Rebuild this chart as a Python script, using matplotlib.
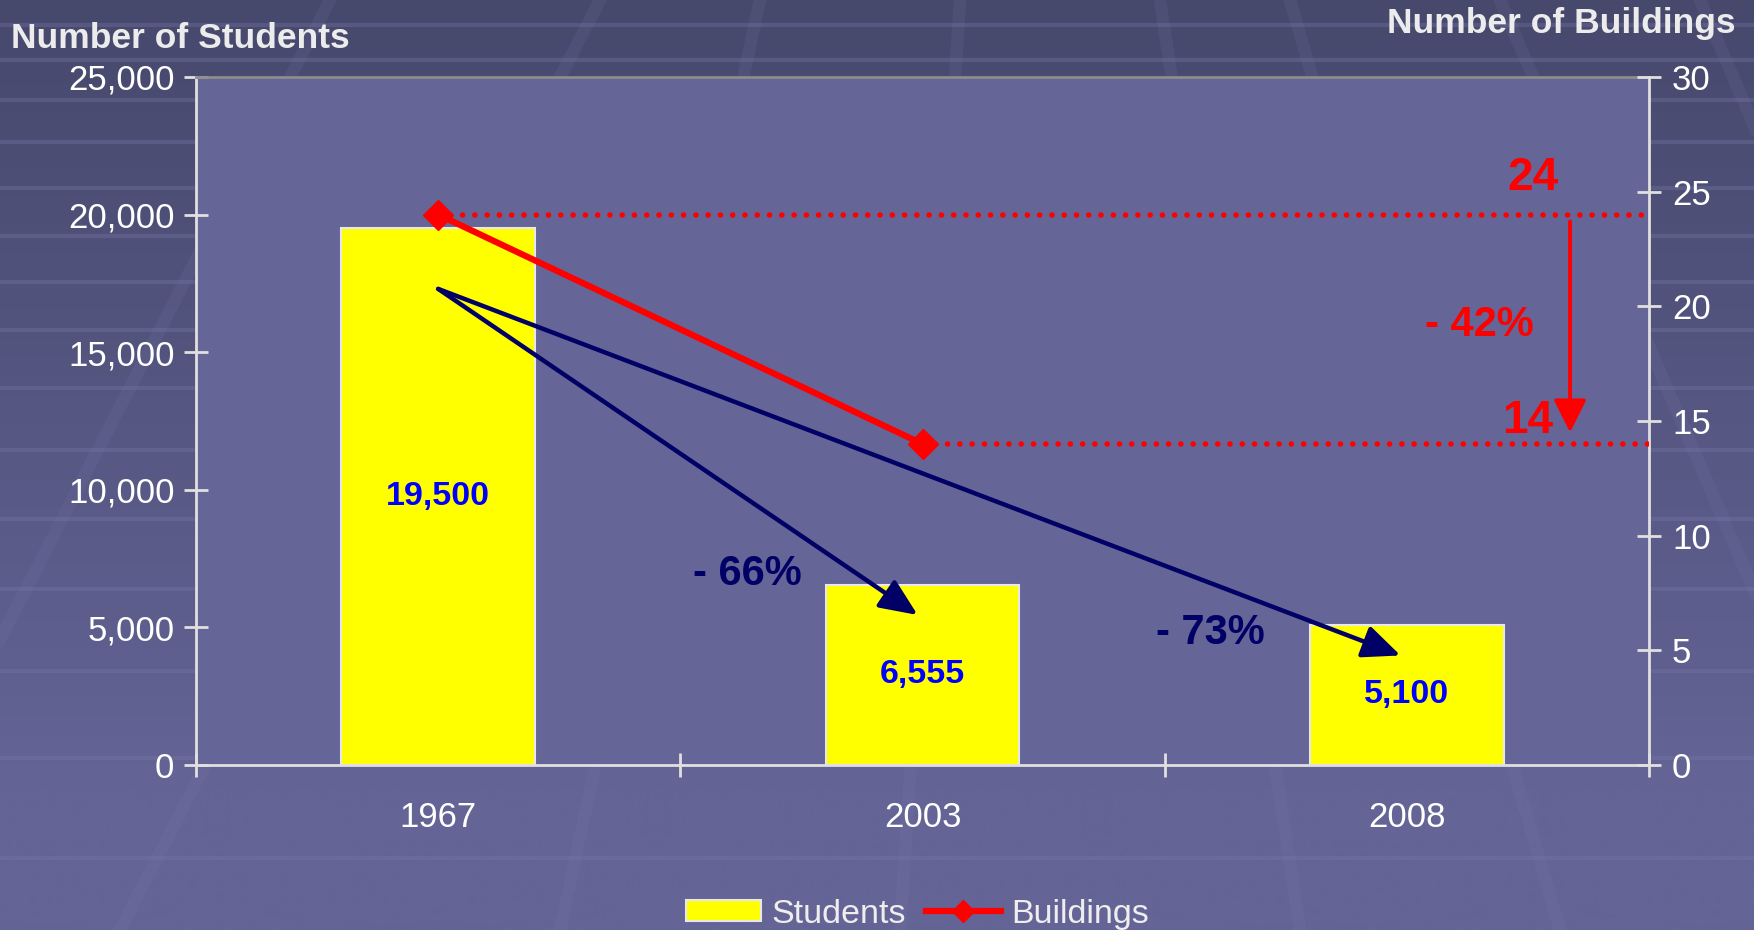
import numpy as np
import matplotlib.pyplot as plt
from matplotlib.lines import Line2D
from matplotlib.patches import Patch
from matplotlib.ticker import FuncFormatter

# data
years = ["1967", "2003", "2008"]
students = [19500, 6555, 5100]
student_labels = ["19,500", "6,555", "5,100"]
buildings = [24, 14]
student_drops = ["- 66%", "- 73%"]
building_drop = "- 42%"

plt.rcParams["font.family"] = ["Liberation Sans", "DejaVu Sans"]

W, H = 1754, 930
fig = plt.figure(figsize=(W / 100, H / 100), dpi=100)

# slide-like background: vertical gradient plus faint stripes
bg = fig.add_axes([0, 0, 1, 1], zorder=-10)
top = np.array([70, 72, 108]) / 255
bottom = np.array([100, 100, 150]) / 255
t = np.clip(np.linspace(0, 1, H) / 0.85, 0, 1)[:, None, None]
grad = top + (bottom - top) * t
grad = np.repeat(grad, 4, axis=1)
bg.imshow(grad, aspect="auto", extent=(0, W, H, 0))
for yb in [25, 60, 100, 142, 188, 236, 282, 330, 388, 450, 519, 589, 671, 758, 858]:
    bg.axhline(yb, color=(0.47, 0.47, 0.66), lw=3, alpha=0.35)
for x0, x1 in [(-150, 330), (120, 600), (560, 760), (900, 960), (1300, 1160),
               (1560, 1290), (1900, 1500), (2100, 1700)]:
    bg.plot([x0, x1], [H, 0], color=(0.48, 0.48, 0.68), lw=9, alpha=0.15)
bg.set_xlim(0, W)
bg.set_ylim(H, 0)
bg.axis("off")

# main axes (students)
ax = fig.add_axes([196 / W, 1 - 765 / H, (1649 - 196) / W, (765 - 77) / H])
ax.set_facecolor("#656597")
x = np.arange(len(years))
ax.bar(x, students, width=0.4, color="#ffff00", edgecolor="#e8e8e8", linewidth=1.5, zorder=2)
ax.set_xlim(-0.5, 2.5)
ax.set_ylim(0, 25000)
ax.set_yticks(range(0, 25001, 5000))
ax.yaxis.set_major_formatter(FuncFormatter(lambda v, p: f"{int(v):,}"))
ax.set_xticks([-0.5, 0.5, 1.5, 2.5])
ax.set_xticklabels([])
ax.set_xticks(x, minor=True)
ax.set_xticklabels(years, minor=True)
ax.tick_params(axis="y", direction="inout", length=17, width=2, color="#e0e0e0",
               labelsize=25, labelcolor="white", pad=7)
ax.tick_params(axis="x", which="major", direction="inout", length=17, width=2, color="#e0e0e0")
ax.tick_params(axis="x", which="minor", length=0, labelsize=25, labelcolor="white", pad=26)
for s in ["left", "bottom"]:
    ax.spines[s].set_color("#e0e0e0")
    ax.spines[s].set_linewidth(2)
ax.spines["top"].set_color("#8c8c8c")
ax.spines["top"].set_linewidth(2)
ax.spines["right"].set_visible(False)

for xi, h, lab in zip(x, students, student_labels):
    ax.text(xi, h / 2, lab, ha="center", va="center", fontsize=24.5,
            fontweight="bold", color="#0000ff", zorder=3)

# navy arrows showing student decline
navy = "#000066"
start = (0, 17300)
for tip, lab, pos in [((0.99, 5450), student_drops[0], (0.638, 6940)),
                      ((1.987, 3980), student_drops[1], (1.594, 4800))]:
    ax.annotate("", xy=tip, xytext=start, zorder=4,
                arrowprops=dict(arrowstyle="-|>,head_length=1.15,head_width=0.5",
                                color=navy, lw=3.2, shrinkA=0, shrinkB=0,
                                mutation_scale=20))
    ax.text(pos[0], pos[1], lab, ha="center", va="center", fontsize=30,
            fontweight="bold", color=navy, zorder=4)

# secondary axes (buildings)
ax2 = ax.twinx()
ax2.patch.set_visible(False)
ax2.set_ylim(0, 30)
ax2.set_yticks(range(0, 31, 5))
ax2.tick_params(axis="y", direction="inout", length=17, width=2, color="#e0e0e0",
                labelsize=25, labelcolor="white", pad=8)
ax2.spines["right"].set_color("#e0e0e0")
ax2.spines["right"].set_linewidth(2)
for s in ["left", "top", "bottom"]:
    ax2.spines[s].set_visible(False)

for xi, b in zip(x, buildings):
    ax2.plot([xi, 2.5], [b, b], color="red", lw=4, linestyle=(0, (0.01, 2.2)),
             dash_capstyle="round", zorder=3)
ax2.plot(x[:len(buildings)], buildings, color="red", lw=4.5, marker="D", ms=15, zorder=5)

ax2.annotate("", xy=(2.337, 14.5), xytext=(2.337, 23.7),
             arrowprops=dict(arrowstyle="-|>,head_length=1.0,head_width=0.5",
                             color="red", lw=2.8, shrinkA=0, shrinkB=0,
                             mutation_scale=20))
ax2.text(2.26, 25.6, str(buildings[0]), ha="center", va="center", fontsize=33,
         fontweight="bold", color="red")
ax2.text(2.25, 15.0, str(buildings[1]), ha="center", va="center", fontsize=33,
         fontweight="bold", color="red")
ax2.text(2.15, 19.2, building_drop, ha="center", va="center", fontsize=30,
         fontweight="bold", color="red")

# axis titles
fig.text(11 / W, 1 - 39 / H, "Number of Students", ha="left", va="center",
         fontsize=25.5, fontweight="bold", color="#ececec")
fig.text(1736 / W, 1 - 24 / H, "Number of Buildings", ha="right", va="center",
         fontsize=25.5, fontweight="bold", color="#ececec")

# legend
handles = [Patch(facecolor="#ffff00", edgecolor="#e8e8e8", linewidth=1.5),
           Line2D([], [], color="red", lw=4.5, marker="D", ms=11)]
fig.legend(handles, ["Students", "Buildings"], loc="center",
           bbox_to_anchor=(0.523, 0.017), ncol=2, frameon=False, fontsize=24.5,
           labelcolor="#eeeeee", handlelength=2.2, handleheight=0.6,
           columnspacing=0.6, handletextpad=0.3)

fig.savefig("out.png", dpi=100)
